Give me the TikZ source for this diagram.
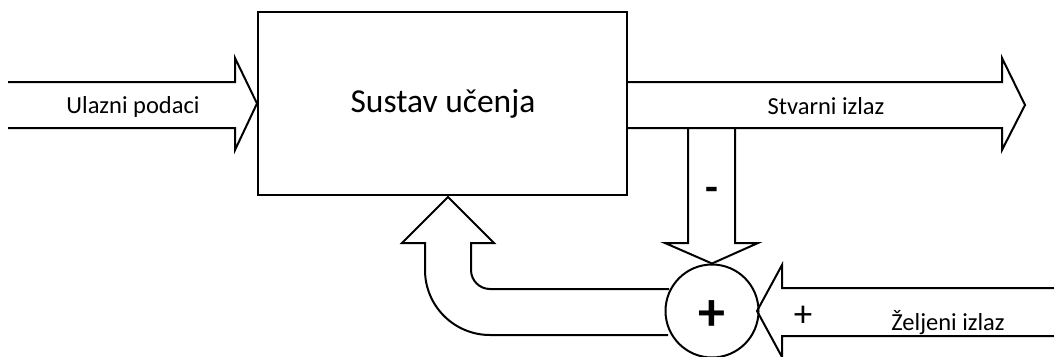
\documentclass[tikz,border=0pt]{standalone}
\usepackage{fontspec}
\setmainfont{Carlito}
\begin{document}
\begin{tikzpicture}[x=1pt,y=-1pt,line width=2pt,line join=miter,
  lbl/.style={inner sep=0pt,font=\fontsize{24.5}{28}\selectfont},
  ln/.style={draw=black}]
\useasboundingbox (0,0) rectangle (1054,356);
\clip (0,0) rectangle (1054,356);
\node[draw,minimum width=369pt,minimum height=183pt,inner sep=0pt] (box) at (442.5,103.5) {};
\node[lbl,font=\fontsize{33.5}{38}\selectfont] (title) at (443,104) {Sustav učenja};
\node[draw,circle,minimum size=93pt,inner sep=0pt] (sum) at (712,311) {};
\node[inner sep=0pt,font=\fontsize{54}{58}\selectfont\bfseries] (plus) at (712,316) {+};
% input arrow
\coordinate (inA) at (8,82);
\coordinate (inB) at (8,128);
\draw[ln] (inA) -- (235,82) -- (235,58) -- (box.west) -- (235,150) -- (235,128) -- (inB);
\node[lbl] (in) at (133,107) {Ulazni podaci};
% output arrow
\draw[ln] (box.east |- inA) -- (1002,82) -- (1002,58) -- (1025,105) coordinate (outtip) -- (1002,150) -- (1002,128) -- (box.east |- inB);
\node[lbl] (out) at (826,106) {Stvarni izlaz};
% down arrow
\draw[ln] (688,128) -- (688,243) -- (665,243) -- (sum.north) -- (758,243) -- (735,243) -- (735,128);
\node[inner sep=0pt,font=\fontsize{42}{44}\selectfont\bfseries] (minus) at (712,194) {-};
% desired output arrow
\coordinate (dA) at (1054,288);
\coordinate (dB) at (1054,336);
\draw[ln] (dA) -- (782,288) -- (782,265) -- (757,311) -- (782,357) -- (782,336) -- (dB);
\node[inner sep=0pt,font=\fontsize{37}{40}\selectfont] (plus2) at (803,316) {+};
\node[lbl] (des) at (948,323) {Željeni izlaz};
% feedback arrow
\draw[ln] (668,335) -- (490,335) arc[start angle=270,end angle=180,radius=65pt] -- (425,243) -- (402,243) -- (448,197) -- (494,243) -- (471,243) -- (471,270) arc[start angle=180,end angle=270,radius=19pt] -- (669,289);
\end{tikzpicture}
\end{document}
